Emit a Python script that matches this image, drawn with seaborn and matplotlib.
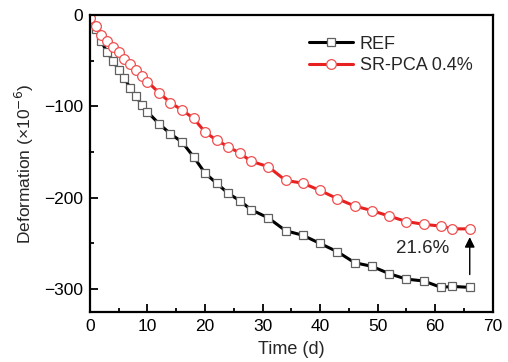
import matplotlib
matplotlib.use("Agg")
import matplotlib.pyplot as plt
import seaborn as sns
import pandas as pd
from matplotlib.ticker import MultipleLocator

# Data
time_days = [0, 1, 2, 3, 4, 5, 6, 7, 8, 9, 10, 12, 14, 16, 18, 20, 22, 24, 26, 28,
             31, 34, 37, 40, 43, 46, 49, 52, 55, 58, 61, 63, 66]
ref_values = [-3, -15, -29, -41, -50, -60, -69, -80, -89, -98, -106, -119, -130, -139,
              -155, -173, -184, -195, -203, -213, -222, -236, -241, -250, -259, -271,
              -275, -283, -289, -291, -298, -297, -298]
srpca_values = [-3, -12, -22, -29, -35, -41, -48, -54, -60, -67, -73, -85, -96, -104,
                -113, -128, -137, -144, -151, -160, -166, -181, -184, -192, -201, -209,
                -214, -220, -226, -229, -231, -234, -234]
series_names = ["REF", "SR-PCA 0.4%"]
annot_text = "21.6%"

sns.set_style("ticks")
plt.rcParams['font.family'] = ['Liberation Sans', 'DejaVu Sans']
plt.rcParams['axes.unicode_minus'] = True

fig = plt.figure(figsize=(5.08, 3.62), dpi=100)
ax = fig.add_axes([0.177, 0.138, 0.793, 0.8206])

df_ref = pd.DataFrame({"t": time_days, "v": ref_values})
df_sr = pd.DataFrame({"t": time_days, "v": srpca_values})

sns.lineplot(data=df_ref, x="t", y="v", ax=ax, color="black", linewidth=2.2,
             marker="s", markersize=6, markerfacecolor="white",
             markeredgecolor="#606060", markeredgewidth=0.9, label=series_names[0])
sns.lineplot(data=df_sr, x="t", y="v", ax=ax, color="#e82020", linewidth=2.2,
             marker="o", markersize=7, markerfacecolor="white",
             markeredgecolor="#f05050", markeredgewidth=0.9, label=series_names[1])

ax.set_xlim(0, 70)
ax.set_ylim(-325, 0)
ax.xaxis.set_major_locator(MultipleLocator(10))
ax.xaxis.set_minor_locator(MultipleLocator(5))
ax.yaxis.set_major_locator(MultipleLocator(100))
ax.yaxis.set_minor_locator(MultipleLocator(50))
ax.tick_params(which="both", direction="in", labelsize=12.5, width=1.3, colors="black")
ax.tick_params(which="major", length=6, pad=5)
ax.tick_params(which="minor", length=3)
for s in ax.spines.values():
    s.set_linewidth(1.6)
    s.set_color("black")

ax.set_xlabel("Time (d)", fontsize=13, labelpad=5)
ax.set_ylabel("Deformation (×10$^{-6}$)", fontsize=12.5, labelpad=6)

# annotation arrow
ax.annotate("", xy=(time_days[-1], srpca_values[-1] - 6),
            xytext=(time_days[-1], ref_values[-1] + 11),
            arrowprops=dict(arrowstyle="-|>", color="black", lw=1.0, mutation_scale=15))
ax.text(57.8, -255, annot_text, fontsize=13.5, ha="center", va="center")

leg = ax.legend(loc="upper right", bbox_to_anchor=(0.99, 0.985), frameon=False,
                fontsize=13, handlelength=2.4, labelspacing=0.25, handletextpad=0.4)

fig.savefig("out.png", dpi=100)
